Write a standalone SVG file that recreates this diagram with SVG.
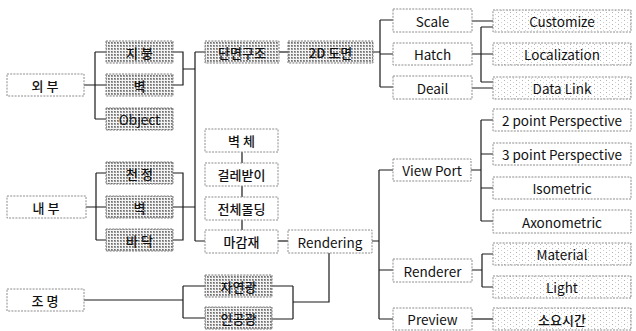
<svg xmlns="http://www.w3.org/2000/svg" width="636" height="331" viewBox="0 0 636 331">
<defs>
<pattern id="dense" width="3" height="3" patternUnits="userSpaceOnUse">
<rect width="3" height="3" fill="#f4f4f4"/>
<rect x="0" y="0" width="2" height="2" fill="#9a9a9a"/>
<rect x="0" y="0" width="1" height="1" fill="#6e6e6e"/>
</pattern>
<pattern id="light" width="6" height="4" patternUnits="userSpaceOnUse">
<rect width="6" height="4" fill="#ffffff"/>
<rect x="0" y="0" width="1" height="1" fill="#b5b5b5"/>
<rect x="3" y="2" width="1" height="1" fill="#d0d0d0"/>
</pattern>
</defs>
<style>
.box{fill:#ffffff;stroke:#8c8c8c;stroke-width:1;stroke-dasharray:2 1.2}
.hatch{fill:url(#dense);stroke:#7a7a7a;stroke-width:1;stroke-dasharray:2 1.2}
.speck{fill:url(#light);stroke:#8c8c8c;stroke-width:1;stroke-dasharray:2 1.2}
.t{font-family:"Noto Sans CJK KR","Noto Sans",sans-serif;font-size:13.5px;fill:#111;text-anchor:middle;dominant-baseline:central}
.k{font-family:"Noto Sans CJK KR",sans-serif;font-size:13px;font-weight:500;fill:#111;text-anchor:middle;dominant-baseline:central}
.ln{fill:none;stroke:#1a1a1a;stroke-width:1.2}
</style>
<g id="connectors">
<path class="ln" d="M84,85 H95 M95,52 V119 M95,52 H106 M95,85 H106 M95,119 H106"/>
<path class="ln" d="M173,52 H183 V85 H173 M183,69 H195"/>
<path class="ln" d="M195,52 V241 M195,52 H205 M195,241 H205"/>
<path class="ln" d="M86,207 H96 M96,173 V240 M96,173 H106 M96,207 H106 M96,240 H106"/>
<path class="ln" d="M173,173 H183 V240 H173 M173,207 H195"/>
<path class="ln" d="M242,152 V163 M242,186 V197 M242,220 V230"/>
<path class="ln" d="M279,52 H288"/>
<path class="ln" d="M373,52 H380 M380,20 V87 M380,20 H393 M380,54 H393 M380,87 H393"/>
<path class="ln" d="M472,21 H493 M472,54 H493 M481,27 V82 M481,27 H493 M481,82 H493 M472,88 H493"/>
<path class="ln" d="M278,241 H288"/>
<path class="ln" d="M372,241 H379 M379,170 V319 M379,170 H393 M379,270 H393 M379,319 H393"/>
<path class="ln" d="M471,170 H481 M481,120 V221 M481,120 H493 M481,154 H493 M481,188 H493 M481,221 H493"/>
<path class="ln" d="M472,270 H482 M482,254 V287 M482,254 H493 M482,287 H493"/>
<path class="ln" d="M472,319 H493"/>
<path class="ln" d="M329,253 V302 H293 M293,286 V319 M272,286 H293 M272,319 H293"/>
<path class="ln" d="M84,300 H183 M183,286 V318 M183,286 H205 M183,318 H205"/>
</g>
<g id="n-oebu"><rect class="box" x="7" y="74" width="77" height="22"/><text class="k" x="45" y="85">외 부</text></g>
<g id="n-jibung"><rect class="hatch" x="106" y="41" width="67" height="22"/><text class="k" x="139.5" y="52">지 붕</text></g>
<g id="n-byeok1"><rect class="hatch" x="106" y="74" width="67" height="22"/><text class="k" x="139.5" y="85">벽</text></g>
<g id="n-object"><rect class="hatch" x="106" y="108" width="67" height="22"/><text class="t" x="139.5" y="119">Object</text></g>
<g id="n-naebu"><rect class="box" x="7" y="196" width="79" height="22"/><text class="k" x="46" y="207">내 부</text></g>
<g id="n-cheonjeong"><rect class="hatch" x="106" y="162" width="67" height="22"/><text class="k" x="139.5" y="173">천 정</text></g>
<g id="n-byeok2"><rect class="hatch" x="106" y="196" width="67" height="22"/><text class="k" x="139.5" y="207">벽</text></g>
<g id="n-badak"><rect class="hatch" x="106" y="229" width="67" height="22"/><text class="k" x="139.5" y="240">바 닥</text></g>
<g id="n-jomyeong"><rect class="box" x="7" y="289" width="77" height="22"/><text class="k" x="45" y="300">조 명</text></g>
<g id="n-danmyeon"><rect class="hatch" x="205" y="41" width="74" height="22"/><text class="k" x="242" y="52">단면구조</text></g>
<g id="n-2d"><rect class="hatch" x="288" y="41" width="85" height="22"/><text class="k" x="330.5" y="52">2D 도면</text></g>
<g id="n-byeokche"><rect class="box" x="205" y="129" width="73" height="23"/><text class="k" x="241.5" y="140.5">벽 체</text></g>
<g id="n-geolle"><rect class="box" x="205" y="163" width="73" height="23"/><text class="k" x="241.5" y="174.5">걸레받이</text></g>
<g id="n-molding"><rect class="box" x="205" y="197" width="73" height="23"/><text class="k" x="241.5" y="208.5">전체몰딩</text></g>
<g id="n-magam"><rect class="box" x="205" y="230" width="73" height="23"/><text class="k" x="241.5" y="241.5">마감재</text></g>
<g id="n-rendering"><rect class="box" x="288" y="230" width="84" height="23"/><text class="t" x="330" y="241.5">Rendering</text></g>
<g id="n-jayeon"><rect class="hatch" x="205" y="275" width="67" height="22"/><text class="k" x="238.5" y="286">자연광</text></g>
<g id="n-ingong"><rect class="hatch" x="205" y="307" width="67" height="22"/><text class="k" x="238.5" y="318">인공광</text></g>
<g id="n-scale"><rect class="box" x="393" y="9" width="79" height="23"/><text class="t" x="432.5" y="20.5">Scale</text></g>
<g id="n-hatch"><rect class="box" x="393" y="43" width="79" height="22"/><text class="t" x="432.5" y="54">Hatch</text></g>
<g id="n-deail"><rect class="box" x="393" y="76" width="79" height="23"/><text class="t" x="432.5" y="87.5">Deail</text></g>
<g id="n-customize"><rect class="speck" x="493" y="10" width="138" height="22"/><text class="t" x="562" y="21">Customize</text></g>
<g id="n-localization"><rect class="speck" x="493" y="43" width="138" height="22"/><text class="t" x="562" y="54">Localization</text></g>
<g id="n-datalink"><rect class="speck" x="493" y="77" width="138" height="22"/><text class="t" x="562" y="88">Data Link</text></g>
<g id="n-2pp"><rect class="box" x="493" y="109" width="138" height="22"/><text class="t" x="562" y="120">2 point Perspective</text></g>
<g id="n-3pp"><rect class="box" x="493" y="143" width="138" height="22"/><text class="t" x="562" y="154">3 point Perspective</text></g>
<g id="n-iso"><rect class="box" x="493" y="177" width="138" height="22"/><text class="t" x="562" y="188">Isometric</text></g>
<g id="n-axo"><rect class="box" x="493" y="210" width="138" height="23"/><text class="t" x="562" y="221.5">Axonometric</text></g>
<g id="n-viewport"><rect class="box" x="393" y="159" width="78" height="22"/><text class="t" x="432" y="170">View Port</text></g>
<g id="n-renderer"><rect class="box" x="393" y="259" width="79" height="23"/><text class="t" x="432.5" y="270.5">Renderer</text></g>
<g id="n-material"><rect class="speck" x="493" y="243" width="138" height="22"/><text class="t" x="562" y="254">Material</text></g>
<g id="n-light"><rect class="speck" x="493" y="276" width="138" height="22"/><text class="t" x="562" y="287">Light</text></g>
<g id="n-preview"><rect class="box" x="393" y="308" width="79" height="22"/><text class="t" x="432.5" y="319">Preview</text></g>
<g id="n-soyo"><rect class="speck" x="493" y="308" width="138" height="22"/><text class="k" x="562" y="319">소요시간</text></g>
</svg>
